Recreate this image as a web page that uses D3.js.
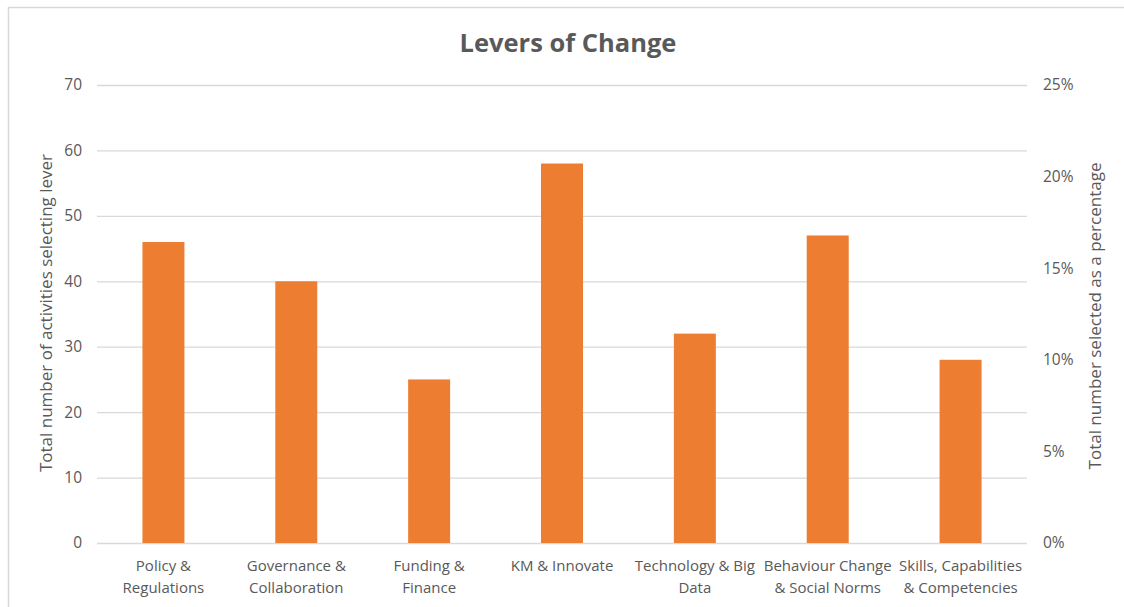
<!DOCTYPE html>
<html>
<head>
<meta charset="utf-8">
<script src="https://cdn.jsdelivr.net/npm/d3@7"></script>
<style>
  html, body { margin: 0; padding: 0; background: #fff; }
  svg { display: block; }
  text { font-family: "Open Sans", "Noto Sans", sans-serif; fill: #595959; }
</style>
</head>
<body>
<div id="chart"></div>
<script>
const categories = [
  "Policy & Regulations",
  "Governance & Collaboration",
  "Funding & Finance",
  "KM & Innovate",
  "Technology & Big Data",
  "Behaviour Change & Social Norms",
  "Skills, Capabilities & Competencies"
];
const tickLabelLines = [
  ["Policy &", "Regulations"],
  ["Governance &", "Collaboration"],
  ["Funding &", "Finance"],
  ["KM & Innovate"],
  ["Technology & Big", "Data"],
  ["Behaviour Change", "& Social Norms"],
  ["Skills, Capabilities", "& Competencies"]
];
const activityCounts = [46, 40, 25, 58, 32, 47, 28];
const leftTicks = [0, 10, 20, 30, 40, 50, 60, 70];
const rightTicks = [0, 0.05, 0.10, 0.15, 0.20, 0.25];
const titleText = "Levers of Change";
const leftAxisTitle = "Total number of activities selecting lever";
const rightAxisTitle = "Total number selected  as a percentage";

const W = 1124, H = 607;
const plot = { left: 97, right: 1027, top: 85, bottom: 543 };

const svg = d3.select("#chart").append("svg")
  .attr("width", W).attr("height", H);

// chart border
svg.append("rect")
  .attr("x", 8.5).attr("y", 7.5)
  .attr("width", W + 20).attr("height", H + 20)
  .attr("fill", "none").attr("stroke", "#D9D9D9").attr("stroke-width", 1.5);

const x = d3.scaleBand().domain(categories).range([plot.left, plot.right]).padding(0);
const y = d3.scaleLinear().domain([0, 70]).range([plot.bottom, plot.top]);
const y2 = d3.scaleLinear().domain([0, 0.25]).range([plot.bottom, plot.top]);

// gridlines
const grid = svg.append("g")
  .attr("transform", `translate(${plot.left},0)`)
  .call(d3.axisLeft(y).tickValues(leftTicks).tickSize(-(plot.right - plot.left)).tickFormat(""));
grid.select(".domain").remove();
grid.selectAll(".tick line").attr("stroke", "#D9D9D9").attr("stroke-width", 1.3);

// left axis labels
const yAxis = svg.append("g")
  .attr("transform", `translate(${plot.left - 10},0)`)
  .call(d3.axisLeft(y).tickValues(leftTicks).tickSize(0).tickPadding(5).tickFormat(d3.format("d")));
yAxis.select(".domain").remove();
yAxis.selectAll("text").style("font-size", "15.5px").attr("fill", "#595959")
  .style("font-family", '"Open Sans", sans-serif');

// right axis labels
const y2Axis = svg.append("g")
  .attr("transform", `translate(${plot.right + 11},0)`)
  .call(d3.axisRight(y2).tickValues(rightTicks).tickSize(0).tickPadding(5).tickFormat(d3.format(".0%")));
y2Axis.select(".domain").remove();
y2Axis.selectAll("text").style("font-size", "15.5px").attr("fill", "#595959")
  .style("font-family", '"Open Sans", sans-serif');

// bars
const barW = x.bandwidth() * 0.316;
svg.append("g").selectAll("rect")
  .data(activityCounts)
  .join("rect")
  .attr("x", (d, i) => x(categories[i]) + x.bandwidth() / 2 - barW / 2)
  .attr("y", d => y(d))
  .attr("width", barW)
  .attr("height", d => y(0) - y(d))
  .attr("fill", "#ED7D31");

// x-axis category labels
const xAxis = svg.append("g")
  .attr("transform", `translate(0,${plot.bottom})`)
  .call(d3.axisBottom(x).tickSize(0).tickFormat(""));
xAxis.select(".domain").remove();
xAxis.selectAll(".tick").each(function(d, i) {
  const t = d3.select(this).append("text")
    .attr("text-anchor", "middle")
    .style("font-size", "15px")
    .attr("fill", "#595959");
  tickLabelLines[i].forEach((line, j) => {
    t.append("tspan").attr("x", 0).attr("y", 28 + j * 22).text(line);
  });
});

// title
svg.append("text")
  .attr("x", 568).attr("y", 52)
  .attr("text-anchor", "middle")
  .style("font-size", "25.5px").style("font-weight", "bold")
  .attr("fill", "#595959")
  .text(titleText);

// axis titles
svg.append("text")
  .attr("transform", `translate(52,313) rotate(-90)`)
  .attr("text-anchor", "middle")
  .style("font-size", "17px")
  .text(leftAxisTitle);

svg.append("text")
  .attr("transform", `translate(1101,316) rotate(-90)`)
  .attr("text-anchor", "middle")
  .style("font-size", "17px")
  .text(rightAxisTitle);
</script>
</body>
</html>
